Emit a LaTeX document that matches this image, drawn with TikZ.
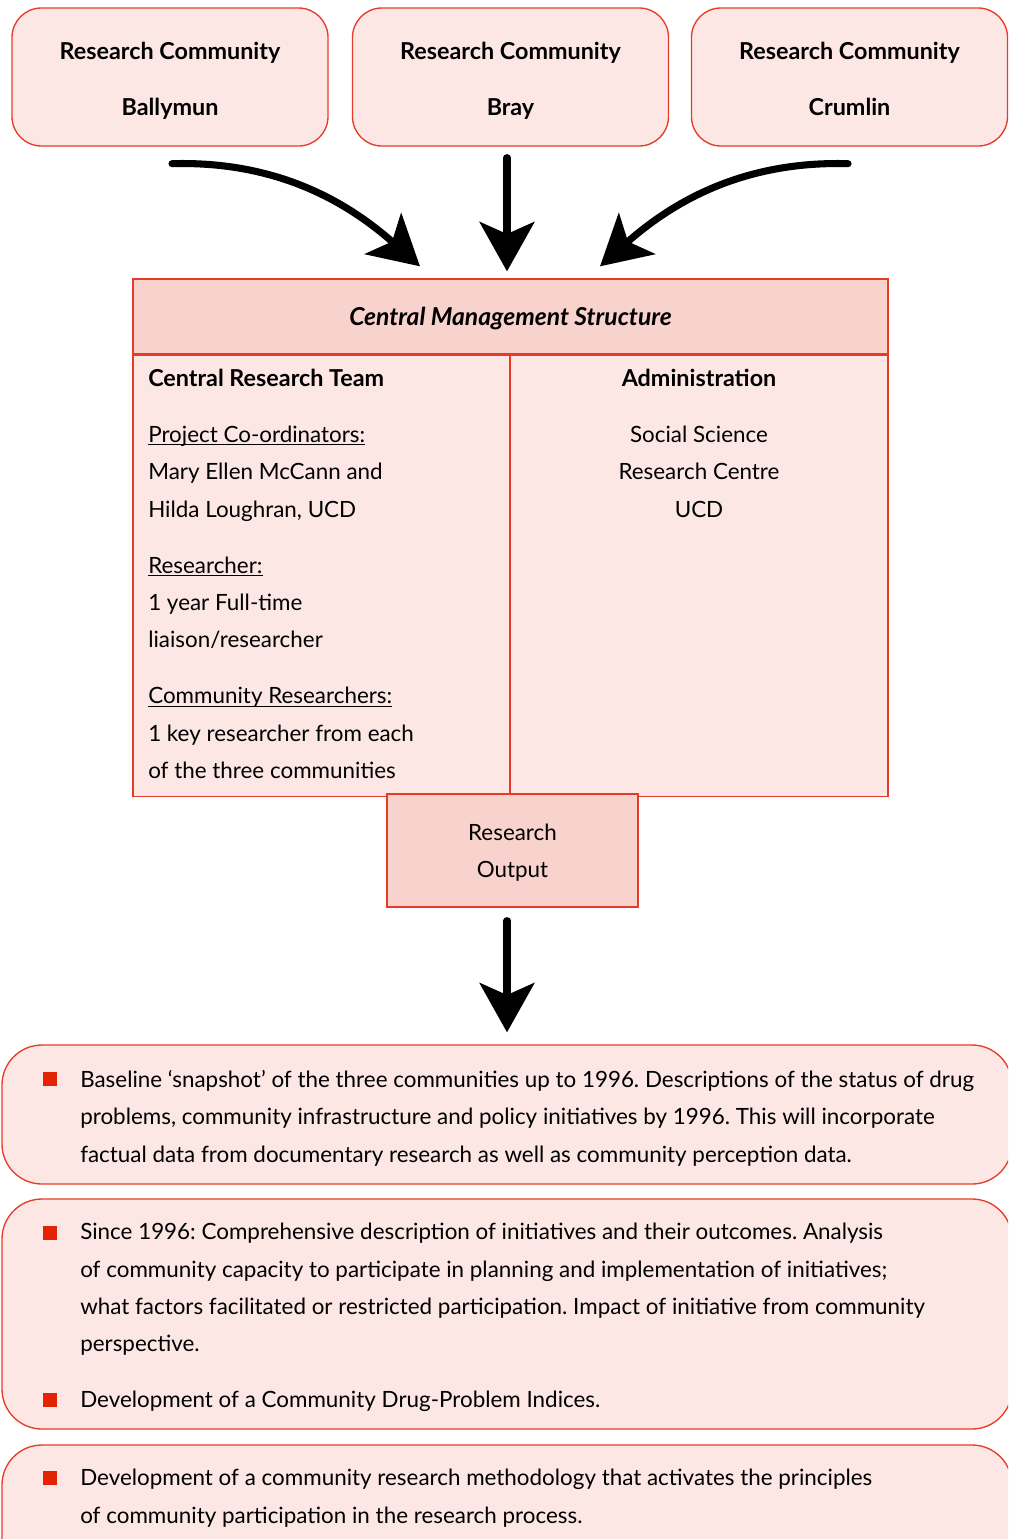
\documentclass[tikz,border=0pt]{standalone}
\usepackage{fontspec}
\setmainfont{Lato}
\usetikzlibrary{arrows.meta,positioning}
\frenchspacing

\definecolor{boxfill}{HTML}{FCE7E5}
\definecolor{headfill}{HTML}{F8D2CC}
\definecolor{boxline}{HTML}{E63B26}
\definecolor{bulletred}{HTML}{E42206}

\newcommand{\undl}[1]{\underline{\smash{#1}}}
\newcommand{\bfhead}[1]{{\fontsize{17.5}{28}\selectfont\bfseries #1}}

\begin{document}
\begin{tikzpicture}[x=0.75pt,y=-0.75pt,
  every node/.style={font=\fontsize{16.8}{28}\selectfont},
  community/.style={draw=boxline,fill=boxfill,line width=1pt,rounded corners=22pt,
    minimum width=237pt,minimum height=103.5pt,align=center,text height=58pt,text depth=0pt,
    font=\fontsize{17.5}{28}\selectfont\bfseries},
  cell/.style={draw=boxline,fill=boxfill,line width=1pt,minimum height=330.75pt,inner sep=0pt},
  outcome/.style={draw=boxline,fill=boxfill,line width=1pt,rounded corners=30pt,minimum width=757.5pt},
  bullet/.style={fill=bulletred,minimum size=10.5pt,inner sep=0pt},
  item/.style={anchor=north west,inner sep=0pt,align=left},
  bigarrow/.style={line width=5.3pt,line cap=round,-{Stealth[length=37pt,width=41pt,inset=9pt]}}]

  \useasboundingbox (0,0) rectangle (1008,1539);
  \clip (0,0) rectangle (1008,1539);

  % the three communities
  \node[community] (Ballymun) at (170,77)   {Research Community\\[14pt]Ballymun};
  \node[community] (Bray)     at (510.5,77) {Research Community\\[14pt]Bray};
  \node[community] (Crumlin)  at (849.5,77) {Research Community\\[14pt]Crumlin};

  % central management table
  \node[draw=boxline,fill=headfill,line width=1pt,minimum width=566.25pt,minimum height=56.25pt,
        text depth=0pt,font=\fontsize{18.5}{28}\selectfont\bfseries\itshape]
        (CentralMgmt) at (510.5,316.5) {Central Management Structure};
  \node[cell,minimum width=282.75pt] (ResearchTeam) [below right=0pt and 0pt of CentralMgmt.south west] {};
  \node[cell,minimum width=283.5pt]  (Admin) [below left=0pt and 0pt of CentralMgmt.south east] {};

  \node[item] (TeamText) at (148,369)
    {\bfhead{Central Research Team}\\[14pt]
     \undl{Project Co-ordinators:}\\
     Mary Ellen McCann and\\
     Hilda Loughran, UCD\\[14pt]
     \undl{Researcher:}\\
     1 year Full-time\\
     liaison/researcher\\[14pt]
     \undl{Community Researchers:}\\
     1 key researcher from each\\
     of the three communities};
  \node[anchor=north,inner sep=0pt,align=center] (AdminText) at (699,369)
    {\bfhead{Administration}\\[14pt]
     Social Science\\
     Research Centre\\
     UCD};

  \node[draw=boxline,fill=headfill,line width=1pt,minimum width=188.25pt,minimum height=84.75pt,
        align=center,text depth=0pt]
        (Output) at (512.5,850.5) {Research\\Output};

  % outcomes
  \node[outcome,minimum height=104.25pt] (Baseline)    at (507,1114.5) {};
  \node[outcome,minimum height=172.5pt]  (Since)       at (507,1314)   {};
  \node[outcome,minimum height=101.25pt] (Methodology) at (507,1512.5) {};

  \node[bullet] (BulletA) at (49.5,1079) {};
  \node[item]   (BaselineText) at (80,1070)
    {Baseline ‘snapshot’ of the three communities up to 1996. Descriptions of the status of drug\\
     problems, community infrastructure and policy initiatives by 1996. This will incorporate\\
     factual data from documentary research as well as community perception data.};
  \node[bullet] (BulletB) at (49.5,1233) {};
  \node[item]   (SinceText) at (80,1223)
    {Since 1996: Comprehensive description of initiatives and their outcomes. Analysis\\
     of community capacity to participate in planning and implementation of initiatives;\\
     what factors facilitated or restricted participation. Impact of initiative from community\\
     perspective.};
  \node[bullet] (BulletC) at (49.5,1400) {};
  \node[item]   (IndicesText) at (80,1391) {Development of a Community Drug-Problem Indices.};
  \node[bullet] (BulletD) at (49.5,1478) {};
  \node[item]   (MethodText) at (80,1469)
    {Development of a community research methodology that activates the principles\\
     of community participation in the research process.};

  % arrows
  \draw[bigarrow] ([shift={(2,17)}]Ballymun.south) .. controls +(108,-3) and +(-70,-62) .. ([shift={(-90.5,-12)}]CentralMgmt.north);
  \draw[bigarrow] ([shift={(-3.5,11)}]Bray.south) -- ([shift={(-3.5,-7)}]CentralMgmt.north);
  \draw[bigarrow] ([shift={(-1.5,17)}]Crumlin.south) .. controls +(-108,-3) and +(70,-62) .. ([shift={(89.5,-12)}]CentralMgmt.north);
  \draw[bigarrow] ([shift={(-5.5,13)}]Output.south) -- ([shift={(0,-12)}]Baseline.north);

\end{tikzpicture}
\end{document}
